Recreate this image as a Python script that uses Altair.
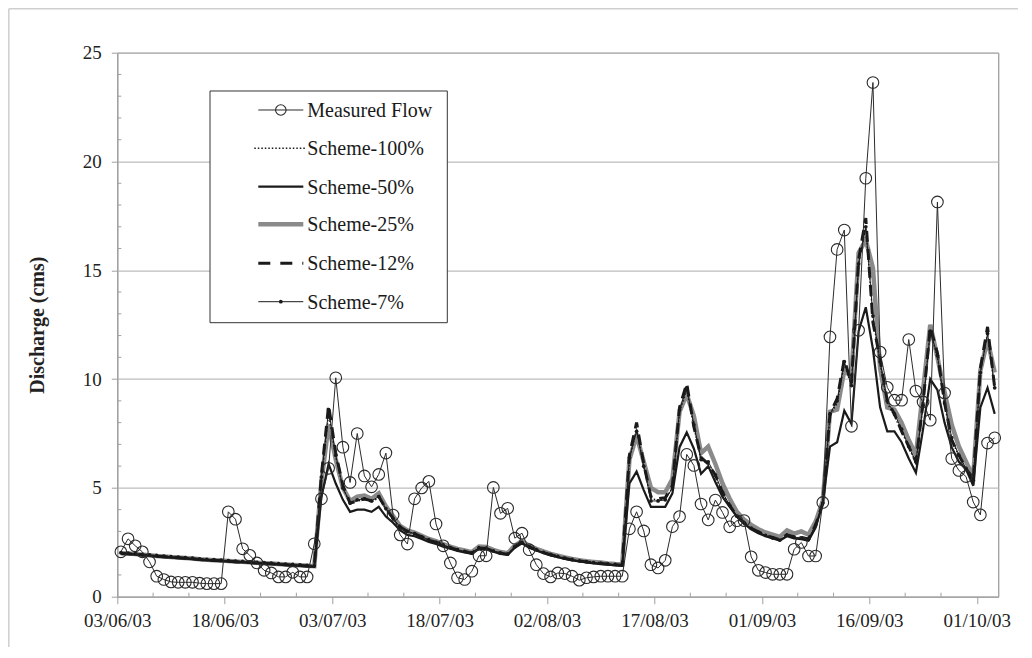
import altair as alt
import pandas as pd

# ---------------- data (daily values, 03/06/03 .. 04/10/03) ----------------
TICK_LABELS = ["03/06/03", "18/06/03", "03/07/03", "18/07/03", "02/08/03",
               "17/08/03", "01/09/03", "16/09/03", "01/10/03"]
TICK_DAYS = [0, 15, 30, 45, 60, 75, 90, 105, 120]

MEASURED = [
    2.06, 2.66, 2.34, 2.06, 1.6, 0.94, 0.79, 0.68, 0.66, 0.66,
    0.66, 0.62, 0.6, 0.6, 0.6, 3.9, 3.56, 2.2, 1.9, 1.55,
    1.21, 1.09, 0.91, 0.91, 1.12, 0.91, 0.91, 2.43, 4.5, 5.9,
    10.06, 6.87, 5.25, 7.5, 5.55, 5.05, 5.62, 6.6, 3.75, 2.84,
    2.42, 4.5, 5.0, 5.3, 3.34, 2.34, 1.55, 0.87, 0.79, 1.17,
    1.88, 1.88, 5.02, 3.83, 4.06, 2.69, 2.92, 2.16, 1.47, 1.06,
    0.91, 1.09, 1.06, 0.94, 0.76, 0.87, 0.91, 0.94, 0.94, 0.94,
    0.94, 3.12, 3.9, 3.02, 1.47, 1.32, 1.67, 3.22, 3.68, 6.54,
    6.03, 4.26, 3.53, 4.44, 3.87, 3.21, 3.49, 3.5, 1.83, 1.21,
    1.11, 1.03, 1.03, 1.03, 2.18, 2.49, 1.87, 1.87, 4.33, 11.94,
    15.96, 16.85, 7.83, 12.24, 19.23, 23.63, 11.24, 9.62, 9.03, 9.03,
    11.82, 9.45, 8.95, 8.11, 18.14, 9.36, 6.35, 5.8, 5.52, 4.35,
    3.76, 7.06, 7.3,
]

SCHEME_100 = [
    2.0, 1.98, 1.96, 1.93, 1.9, 1.88, 1.85, 1.82, 1.8, 1.78,
    1.75, 1.72, 1.7, 1.68, 1.66, 1.64, 1.62, 1.6, 1.58, 1.56,
    1.54, 1.52, 1.5, 1.48, 1.46, 1.44, 1.42, 1.4, 5.4, 8.4,
    6.4, 5.0, 4.3, 4.4, 4.45, 4.35, 4.55, 4.0, 3.55, 3.15,
    2.97, 2.87, 2.72, 2.6, 2.48, 2.36, 2.24, 2.14, 2.06, 1.99,
    2.24, 2.21, 2.09, 1.99, 1.94, 2.28, 2.48, 2.28, 2.14, 2.02,
    1.92, 1.83, 1.75, 1.69, 1.63, 1.59, 1.55, 1.52, 1.49, 1.46,
    1.44, 6.3, 7.7, 6.0, 4.5, 4.45, 4.5, 5.0, 8.5, 9.5,
    7.8, 6.3, 6.1, 5.5, 4.75, 4.15, 3.65, 3.35, 3.1, 2.94,
    2.8, 2.69, 2.59, 2.8, 2.72, 2.68, 2.62, 3.25, 4.25, 8.3,
    8.9, 10.7, 9.7, 15.3, 17.0, 12.8, 10.7, 8.9, 8.3, 7.6,
    6.85, 6.15, 8.8, 12.2, 11.0, 8.8, 7.2, 6.45, 5.85, 5.3,
    10.3, 12.1, 9.5,
]

SCHEME_50 = [
    1.97, 1.95, 1.93, 1.9, 1.87, 1.84, 1.82, 1.79, 1.77, 1.75,
    1.72, 1.69, 1.67, 1.65, 1.63, 1.61, 1.59, 1.57, 1.55, 1.53,
    1.51, 1.49, 1.47, 1.45, 1.43, 1.41, 1.39, 1.37, 4.6, 6.1,
    5.2, 4.45, 3.9, 4.0, 4.0, 3.9, 4.13, 3.68, 3.4, 3.05,
    2.84, 2.78, 2.65, 2.52, 2.42, 2.3, 2.2, 2.1, 2.03, 1.97,
    2.2, 2.18, 2.07, 1.97, 1.92, 2.25, 2.45, 2.25, 2.12, 2.0,
    1.9, 1.81, 1.74, 1.67, 1.62, 1.57, 1.53, 1.5, 1.47, 1.44,
    1.42, 5.2, 5.75, 4.9, 4.13, 4.13, 4.13, 4.75, 6.87, 7.55,
    6.8, 5.65, 6.0, 5.27, 4.59, 4.13, 3.68, 3.35, 3.1, 2.92,
    2.78, 2.68, 2.58, 2.78, 2.68, 2.64, 2.57, 3.18, 4.3, 6.9,
    7.1, 8.55, 7.94, 12.2, 13.3, 11.37, 8.7, 7.6, 7.6, 7.1,
    6.35, 5.7, 7.7, 10.0, 9.5, 8.0, 6.86, 6.2, 5.85, 5.1,
    8.7, 9.6, 8.4,
]

SCHEME_25 = [
    2.0, 1.98, 1.96, 1.93, 1.9, 1.87, 1.85, 1.82, 1.8, 1.78,
    1.75, 1.72, 1.7, 1.68, 1.66, 1.64, 1.62, 1.6, 1.58, 1.56,
    1.54, 1.52, 1.5, 1.48, 1.46, 1.44, 1.42, 1.4, 5.3, 7.9,
    6.3, 5.0, 4.4, 4.6, 4.65, 4.5, 4.75, 4.15, 3.7, 3.25,
    3.05, 2.95, 2.8, 2.65, 2.55, 2.42, 2.3, 2.2, 2.12, 2.05,
    2.3, 2.28, 2.15, 2.05, 2.0, 2.35, 2.55, 2.35, 2.2, 2.08,
    1.97, 1.88, 1.8, 1.73, 1.68, 1.63, 1.6, 1.57, 1.53, 1.5,
    1.48, 6.3, 7.4, 6.2, 5.0, 4.8, 4.8, 5.4, 8.5, 9.3,
    8.3, 6.6, 6.9, 6.1, 5.2, 4.5, 3.9, 3.55, 3.3, 3.1,
    2.95, 2.85, 2.75, 3.05, 2.9, 3.0, 2.85, 3.45, 4.4, 8.5,
    8.6, 10.4, 10.1, 15.8, 16.4, 15.1, 10.5, 8.7, 8.6, 8.0,
    7.2, 6.5, 9.5, 12.5, 11.0, 9.4, 7.9, 6.9, 6.2, 5.5,
    10.4, 11.8, 10.3,
]

SCHEME_12 = [
    1.99, 1.97, 1.95, 1.92, 1.89, 1.86, 1.84, 1.81, 1.79, 1.77,
    1.74, 1.71, 1.69, 1.67, 1.65, 1.63, 1.61, 1.59, 1.57, 1.55,
    1.53, 1.51, 1.49, 1.47, 1.45, 1.43, 1.41, 1.39, 5.6, 8.8,
    6.6, 5.1, 4.3, 4.4, 4.5, 4.4, 4.6, 4.05, 3.6, 3.2,
    3.0, 2.9, 2.75, 2.6, 2.5, 2.38, 2.25, 2.15, 2.08, 2.0,
    2.25, 2.22, 2.1, 2.0, 1.95, 2.3, 2.5, 2.3, 2.15, 2.03,
    1.93, 1.84, 1.76, 1.7, 1.64, 1.6, 1.56, 1.53, 1.5, 1.47,
    1.45, 6.5, 8.0, 6.1, 4.6, 4.5, 4.55, 5.1, 8.7, 9.8,
    7.8, 6.4, 6.1, 5.6, 4.8, 4.2, 3.7, 3.4, 3.15, 2.98,
    2.82, 2.72, 2.62, 2.85, 2.75, 2.72, 2.65, 3.3, 4.3, 8.4,
    9.1, 10.9, 9.8, 15.5, 17.4, 12.6, 10.9, 9.0, 8.4, 7.6,
    6.9, 6.2, 8.9, 12.4, 11.2, 8.9, 7.2, 6.5, 5.9, 5.35,
    10.5, 12.4, 9.6,
]

SCHEME_7 = [
    2.02, 2.0, 1.98, 1.95, 1.92, 1.9, 1.87, 1.84, 1.82, 1.8,
    1.77, 1.74, 1.72, 1.7, 1.68, 1.66, 1.64, 1.62, 1.6, 1.58,
    1.56, 1.54, 1.52, 1.5, 1.48, 1.46, 1.44, 1.42, 5.5, 8.6,
    6.5, 5.0, 4.3, 4.45, 4.5, 4.4, 4.6, 4.05, 3.6, 3.2,
    3.0, 2.9, 2.75, 2.62, 2.5, 2.38, 2.26, 2.16, 2.08, 2.01,
    2.26, 2.23, 2.1, 2.01, 1.96, 2.3, 2.5, 2.3, 2.16, 2.04,
    1.94, 1.85, 1.77, 1.71, 1.65, 1.61, 1.57, 1.54, 1.51, 1.48,
    1.46, 6.4, 7.6, 6.0, 4.4, 4.4, 4.45, 5.0, 8.6, 9.6,
    7.9, 6.3, 6.2, 5.6, 4.8, 4.2, 3.7, 3.4, 3.15, 2.97,
    2.82, 2.7, 2.6, 2.83, 2.74, 2.7, 2.64, 3.3, 4.3, 8.4,
    9.0, 10.8, 9.7, 15.3, 17.0, 12.9, 10.8, 9.0, 8.4, 7.7,
    6.9, 6.2, 8.8, 12.2, 11.1, 8.9, 7.3, 6.5, 5.9, 5.35,
    10.3, 12.1, 9.6,
]

X_MINOR = [5, 10, 20, 25, 35, 40, 50, 55, 65, 70, 80, 85, 95, 100, 110, 115]
Y_MINOR = [v for v in range(1, 25) if v % 5 != 0]

LEGEND_LABELS = ["Measured Flow", "Scheme-100%", "Scheme-50%",
                 "Scheme-25%", "Scheme-12%", "Scheme-7%"]

# ---------------- layout constants ----------------
W, H = 881, 544
FONT = "'Liberation Serif', 'Times New Roman', 'DejaVu Serif', serif"
BLACK = "#1a1a1a"


def frame(values):
    return pd.DataFrame({"x": [i + 0.5 for i in range(len(values))], "v": values})


label_expr = "[" + ",".join("'%s'" % t for t in TICK_LABELS) + "][round(datum.value/15)]"

X = alt.X(
    "x:Q",
    scale=alt.Scale(domain=[0, 123], nice=False, zero=False),
    axis=alt.Axis(
        values=TICK_DAYS, labelExpr=label_expr, grid=False, title=None,
        tickSize=7, tickColor="#a0a0a0", domainColor="#a0a0a0",
        labelFont=FONT, labelFontSize=19, labelColor="#222222",
        labelPadding=8, labelFlush=False, labelOverlap=False,
    ),
)
Y = alt.Y(
    "v:Q",
    scale=alt.Scale(domain=[0, 25], nice=False),
    axis=alt.Axis(
        values=[0, 5, 10, 15, 20, 25], grid=True, gridColor="#bdbdbd", gridWidth=1.3,
        tickSize=6, tickColor="#a0a0a0", domainColor="#a0a0a0",
        labelFont=FONT, labelFontSize=19, labelColor="#222222", labelPadding=10,
        title="Discharge  (cms)", titleFont=FONT, titleFontSize=20,
        titleFontWeight="bold", titleColor="#222222", titleAngle=270,
        titleX=-74, titleY=272, titleAlign="center", titleBaseline="alphabetic",
    ),
)

layers = []

# minor ticks (inward)
layers.append(
    alt.Chart(pd.DataFrame({"x": X_MINOR})).mark_rule(color="#a0a0a0", strokeWidth=1)
    .encode(x=X, y=alt.value(H), y2=alt.value(H - 4))
)
layers.append(
    alt.Chart(pd.DataFrame({"v": Y_MINOR})).mark_rule(color="#a0a0a0", strokeWidth=1)
    .encode(y=Y, x=alt.value(0), x2=alt.value(4))
)

# simulated series
layers.append(
    alt.Chart(frame(SCHEME_25)).mark_line(color="#8a8a8a", strokeWidth=4.5)
    .encode(x=X, y=Y)
)
layers.append(
    alt.Chart(frame(SCHEME_100)).mark_line(color=BLACK, strokeWidth=1.4, strokeDash=[1.5, 2])
    .encode(x=X, y=Y)
)
layers.append(
    alt.Chart(frame(SCHEME_50)).mark_line(color=BLACK, strokeWidth=2.2)
    .encode(x=X, y=Y)
)
layers.append(
    alt.Chart(frame(SCHEME_12)).mark_line(color=BLACK, strokeWidth=3, strokeDash=[11, 7])
    .encode(x=X, y=Y)
)
s7 = alt.Chart(frame(SCHEME_7))
layers.append(s7.mark_line(color=BLACK, strokeWidth=1).encode(x=X, y=Y))
layers.append(s7.mark_point(shape="circle", filled=True, color=BLACK, size=14, opacity=1)
              .encode(x=X, y=Y))

# measured
m = alt.Chart(frame(MEASURED))
layers.append(m.mark_line(color="#2a2a2a", strokeWidth=1).encode(x=X, y=Y))
layers.append(m.mark_point(shape="circle", filled=False, color="#2a2a2a", size=135,
                           strokeWidth=1.1, opacity=1).encode(x=X, y=Y))

# ---------------- legend ----------------
one = pd.DataFrame({"a": [0]})
LX0, LX1, LY0, LY1 = 92.7, 330, 38.3, 270
ROWS = [57.3, 95.6, 134, 171.6, 210.6, 249]
S0, S1, TX = 141, 186, 190

layers.append(
    alt.Chart(one).mark_rect(fill="white", stroke="#333333", strokeWidth=1)
    .encode(x=alt.value(LX0), x2=alt.value(LX1), y=alt.value(LY0), y2=alt.value(LY1))
)
styles = [
    dict(color="#2a2a2a", strokeWidth=1),
    dict(color=BLACK, strokeWidth=1.4, strokeDash=[1.5, 2]),
    dict(color=BLACK, strokeWidth=2.2),
    dict(color="#8a8a8a", strokeWidth=4.5),
    dict(color=BLACK, strokeWidth=3, strokeDash=[12, 10]),
    dict(color=BLACK, strokeWidth=1),
]
for i, (lab, st) in enumerate(zip(LEGEND_LABELS, styles)):
    y = ROWS[i]
    x0, x1 = (S0 - 4, S1 + 2) if i == 1 else (S0, S1)
    layers.append(
        alt.Chart(one).mark_rule(**st)
        .encode(x=alt.value(x0), x2=alt.value(x1), y=alt.value(y))
    )
    layers.append(
        alt.Chart(one).mark_text(text=lab, font=FONT, fontSize=20, align="left",
                                 baseline="middle", color="#1a1a1a")
        .encode(x=alt.value(TX), y=alt.value(y + 1))
    )
layers.append(
    alt.Chart(one).mark_point(shape="circle", filled=False, color="#2a2a2a", size=110,
                              strokeWidth=1.1, opacity=1)
    .encode(x=alt.value((S0 + S1) / 2), y=alt.value(ROWS[0]))
)
layers.append(
    alt.Chart(one).mark_point(shape="circle", filled=True, color=BLACK, size=14, opacity=1)
    .encode(x=alt.value((S0 + S1) / 2), y=alt.value(ROWS[5]))
)

# outer chart-area frame (left and top edges)
layers.append(
    alt.Chart(one).mark_rule(color="#cfcfcf", strokeWidth=1.5)
    .encode(x=alt.value(-108.5), x2=alt.value(W + 30), y=alt.value(-44))
)
layers.append(
    alt.Chart(one).mark_rule(color="#cfcfcf", strokeWidth=1.5)
    .encode(x=alt.value(-108.5), y=alt.value(-44), y2=alt.value(H + 60))
)

chart = (
    alt.layer(*layers)
    .properties(
        width=W, height=H,
        autosize=alt.AutoSizeParams(type="none"),
        padding={"left": 109.3, "top": 44.7, "right": 20, "bottom": 50},
        background="white",
    )
    .configure_view(stroke="#7f7f7f", strokeWidth=1)
)

chart.save("out.html", embed_options={"renderer": "svg", "actions": False})
